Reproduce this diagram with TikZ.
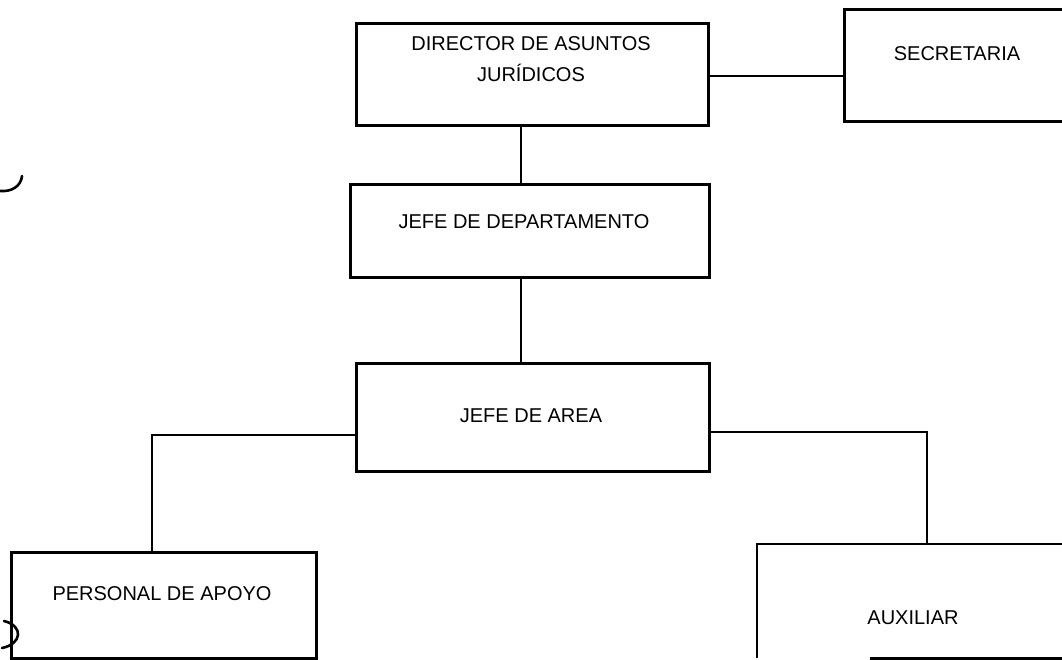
\documentclass[tikz,border=0pt]{standalone}
\usepackage{fontspec}
\setmainfont{Liberation Sans}
\begin{document}
\begin{tikzpicture}[x=1pt,y=-1pt,
  box/.style={draw, line width=2.8pt, rectangle, anchor=north west, inner sep=0pt},
  openbox/.style={rectangle, anchor=north west, inner sep=0pt},
  boxline/.style={line width=2.8pt},
  lbl/.style={font=\fontsize{20}{31}\selectfont, align=center, inner sep=0pt},
  link/.style={line width=1.3pt},
  scanmark/.style={line width=2.6pt, line cap=round}]
\useasboundingbox (0,0) rectangle (1062,660);
\clip (0,0) rectangle (1062,660);
% boxes
\node[box, minimum width=352pt, minimum height=102pt] (dir) at (355,22) {};
\node[box, minimum width=235pt, minimum height=112pt] (sec) at (843,8) {};
\node[box, minimum width=359pt, minimum height=93pt] (dep) at (349,183) {};
\node[box, minimum width=353pt, minimum height=108pt] (area) at (355,362) {};
\node[box, minimum width=305pt, minimum height=106pt] (pers) at (10,551) {};
\node[openbox, minimum width=320pt, minimum height=114pt] (aux) at (757,544) {};
\draw[boxline] (aux.south west) -- (aux.north west) -- (aux.north east) -- (aux.south east);
\draw[boxline] ([xshift=113pt]aux.south west) -- (aux.south east);
% texts
\node[lbl] (dirT) at (531,59) {DIRECTOR DE ASUNTOS\\JURÍDICOS};
\node[lbl] (secT) at (957,54) {SECRETARIA};
\node[lbl] (depT) at (524,222) {JEFE DE DEPARTAMENTO};
\node[lbl] (areaT) at (531,416) {JEFE DE AREA};
\node[lbl] (persT) at (162,594) {PERSONAL DE APOYO};
\node[lbl] (auxT) at (913,618) {AUXILIAR};
% helper coordinates
\coordinate (h1) at (0,76);
\coordinate (v1) at (521,0);
\coordinate (hl) at (0,435);
\coordinate (hr) at (0,432);
\coordinate (cl) at (152,435);
\coordinate (cr) at (927,432);
% connectors
\draw[link] (dir.east |- h1) -- (sec.west |- h1);
\draw[link] (dir.south -| v1) -- (dep.north -| v1);
\draw[link] (dep.south -| v1) -- (area.north -| v1);
\draw[link] (area.west |- hl) -- (cl) -- (pers.north -| cl);
\draw[link] (area.east |- hr) -- (cr) -- (aux.north -| cr);
% scan marks
\draw[scanmark] (22,176) .. controls (21,186) and (12,192) .. (0,191);
\draw[scanmark] (4,621) .. controls (24,626) and (22,644) .. (2,648);
\end{tikzpicture}
\end{document}
